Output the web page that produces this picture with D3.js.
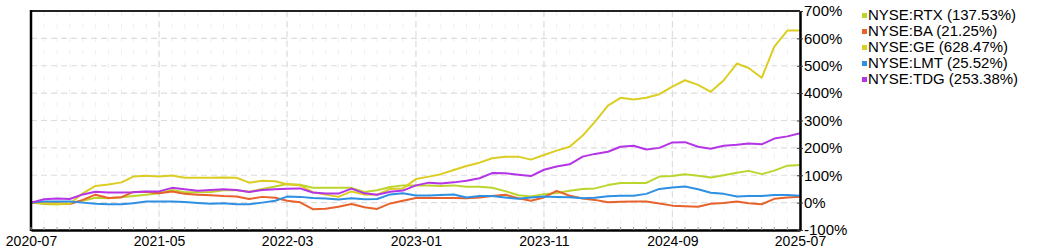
<!DOCTYPE html>
<html>
<head>
<meta charset="utf-8">
<script src="https://cdn.jsdelivr.net/npm/d3@7"></script>
<style>
    body { margin: 0; background: #fff; }
    svg { font-family: "Liberation Sans", Arial, sans-serif; }
</style>
</head>
<body>
<div id="chart"></div>
<script>
// monthly points, 2020-07 .. 2025-07
var startMonth = "2020-07";
var endMonth = "2025-07";

var seriesNames = ["NYSE:RTX (137.53%)", "NYSE:BA (21.25%)", "NYSE:GE (628.47%)", "NYSE:LMT (25.52%)", "NYSE:TDG (253.38%)"];
var seriesColors = ["#bcd52c", "#e8622c", "#dccd22", "#2e90e2", "#b434e6"];

var rtx = [0, -5, -7, -2, 7, 18, 16, 20, 24, 29, 34, 46, 38, 38, 39, 45, 45, 40, 50, 59,
    68, 65, 54, 54, 54, 54, 39, 45, 57, 63, 63, 63, 61, 63, 58, 58, 54, 42, 27, 22,
    31, 35, 43, 50, 52, 64, 72, 72, 72, 95, 97, 104, 98, 92, 100, 109, 116, 104, 117, 135, 137.53];
var ba = [0, -2, -2, -5, 10, 29, 17, 20, 39, 40, 34, 41, 32, 29, 27, 24, 22, 13, 21, 18,
    7, 1, -24, -22, -15, -5, -17, -23, -3, 7, 17, 17, 17, 17, 16, 19, 24, 29, 16, 7,
    19, 43, 25, 15, 10, 1, 3, 4, 4, -3, -11, -13, -15, -4, -1, 4, -2, -6, 14, 19, 21.25];
var ge = [0, -2, -5, -4, 34, 61, 66, 74, 95, 98, 95, 99, 91, 91, 91, 92, 91, 73, 80, 78,
    67, 63, 38, 30, 21, 41, 30, 29, 50, 52, 86, 95, 104, 119, 134, 146, 162, 168, 168, 157,
    174, 190, 204, 245, 295, 354, 383, 377, 383, 396, 424, 447, 430, 405, 447, 508, 492, 456, 570, 628.47, 628.47];
var lmt = [0, 4, 4, 4, 0, -4, -6, -6, -2, 4, 4, 4, 2, -1, -4, -2, -6, -6, 0, 7,
    22, 21, 17, 15, 11, 16, 12, 13, 30, 34, 26, 26, 28, 30, 19, 24, 24, 19, 14, 19,
    22, 21, 20, 16, 18, 23, 25, 25, 32, 50, 55, 59, 49, 36, 32, 22, 24, 24, 28, 28, 25.52];
var tdg = [0, 12, 15, 13, 30, 40, 37, 37, 38, 41, 41, 54, 49, 43, 46, 49, 46, 39, 46, 49,
    51, 52, 37, 33, 33, 51, 34, 29, 40, 44, 63, 73, 70, 74, 80, 89, 108, 107, 102, 97,
    120, 132, 140, 168, 178, 186, 204, 208, 194, 200, 220, 221, 204, 197, 208, 211, 216, 213, 234, 242, 253.38];

var xTickLabels = ["2020-07", "2021-05", "2022-03", "2023-01", "2023-11", "2024-09", "2025-07"];
var yTicks = [-100, 0, 100, 200, 300, 400, 500, 600, 700];

var allSeries = [rtx, ba, ge, lmt, tdg];

var width = 1050;
var height = 250;
var plot = { left: 31, right: 800, top: 11, bottom: 230 };

var parseMonth = d3.timeParse("%Y-%m");
var months = d3.timeMonth.range(parseMonth(startMonth), d3.timeMonth.offset(parseMonth(endMonth), 1));

var x = d3.scaleTime()
    .domain([parseMonth(startMonth), parseMonth(endMonth)])
    .range([plot.left, plot.right]);
var y = d3.scaleLinear()
    .domain([-100, 700])
    .range([plot.bottom, plot.top]);

var svg = d3.select("#chart")
    .append("svg")
    .attr("width", width)
    .attr("height", height);

// minor monthly gridlines
svg.append("g")
    .selectAll("line")
    .data(months)
    .enter().append("line")
    .attr("x1", function (d) { return x(d); })
    .attr("x2", function (d) { return x(d); })
    .attr("y1", plot.top)
    .attr("y2", plot.bottom)
    .attr("stroke", "#f0f0f0")
    .attr("stroke-dasharray", "5,8");

// major gridlines
svg.append("g")
    .selectAll("line")
    .data(xTickLabels)
    .enter().append("line")
    .attr("x1", function (d) { return x(parseMonth(d)); })
    .attr("x2", function (d) { return x(parseMonth(d)); })
    .attr("y1", plot.top)
    .attr("y2", plot.bottom)
    .attr("stroke", "#dddddd")
    .attr("stroke-width", 1.2)
    .attr("stroke-dasharray", "6,4");

svg.append("g")
    .selectAll("line")
    .data(yTicks)
    .enter().append("line")
    .attr("x1", plot.left)
    .attr("x2", plot.right)
    .attr("y1", function (d) { return y(d); })
    .attr("y2", function (d) { return y(d); })
    .attr("stroke", "#dddddd")
    .attr("stroke-width", 1.2)
    .attr("stroke-dasharray", "6,4");

// lines
var valueline = d3.line()
    .x(function (d, i) { return x(months[i]); })
    .y(function (d) { return y(d); });

svg.append("g")
    .selectAll("path")
    .data(allSeries)
    .enter().append("path")
    .attr("d", function (d) { return valueline(d); })
    .attr("fill", "none")
    .attr("stroke", function (d, i) { return seriesColors[i]; })
    .attr("stroke-width", 2)
    .attr("stroke-linejoin", "round");

// frame
svg.append("line")
    .attr("x1", plot.left).attr("x2", plot.right)
    .attr("y1", plot.top).attr("y2", plot.top)
    .attr("stroke", "#222").attr("stroke-width", 2);
svg.append("line")
    .attr("x1", plot.left).attr("x2", plot.left)
    .attr("y1", plot.top - 1).attr("y2", plot.bottom + 1)
    .attr("stroke", "#000").attr("stroke-width", 2.5);

// X axis
var xAxis = d3.axisBottom(x)
    .tickValues(xTickLabels.map(parseMonth))
    .tickFormat(d3.timeFormat("%Y-%m"))
    .tickSize(0)
    .tickPadding(6);

var gx = svg.append("g")
    .attr("transform", "translate(0," + plot.bottom + ")")
    .call(xAxis);
gx.select(".domain").attr("stroke", "#000").attr("stroke-width", 2.5);
gx.selectAll("text").attr("font-size", 14).attr("fill", "#000")
    .attr("font-family", "Liberation Sans, Arial, sans-serif");

// monthly minor ticks
svg.append("g")
    .selectAll("line")
    .data(months)
    .enter().append("line")
    .attr("x1", function (d) { return x(d); })
    .attr("x2", function (d) { return x(d); })
    .attr("y1", plot.bottom - 3)
    .attr("y2", plot.bottom)
    .attr("stroke", "#999");

// Y axis on right
var yAxis = d3.axisRight(y)
    .tickValues(yTicks)
    .tickFormat(function (d) { return d + "%"; })
    .tickSizeInner(3)
    .tickSizeOuter(0)
    .tickPadding(1);

var gy = svg.append("g")
    .attr("transform", "translate(" + plot.right + ",0)")
    .call(yAxis);
gy.select(".domain").attr("stroke", "#000").attr("stroke-width", 2.5);
gy.selectAll(".tick line").attr("x1", -3).attr("stroke", "#333");
gy.selectAll("text").attr("font-size", 15).attr("fill", "#000")
    .attr("font-family", "Liberation Sans, Arial, sans-serif");

// legend
var legend = svg.append("g")
    .selectAll("g")
    .data(seriesNames)
    .enter().append("g")
    .attr("transform", function (d, i) { return "translate(862," + (20 + i * 16) + ")"; });

legend.append("rect")
    .attr("x", 0)
    .attr("y", -7)
    .attr("width", 5)
    .attr("height", 5)
    .attr("fill", function (d, i) { return seriesColors[i]; });

legend.append("text")
    .attr("x", 6)
    .attr("y", 0)
    .attr("font-size", 15)
    .attr("fill", "#000")
    .text(function (d) { return d; });
</script>
</body>
</html>
